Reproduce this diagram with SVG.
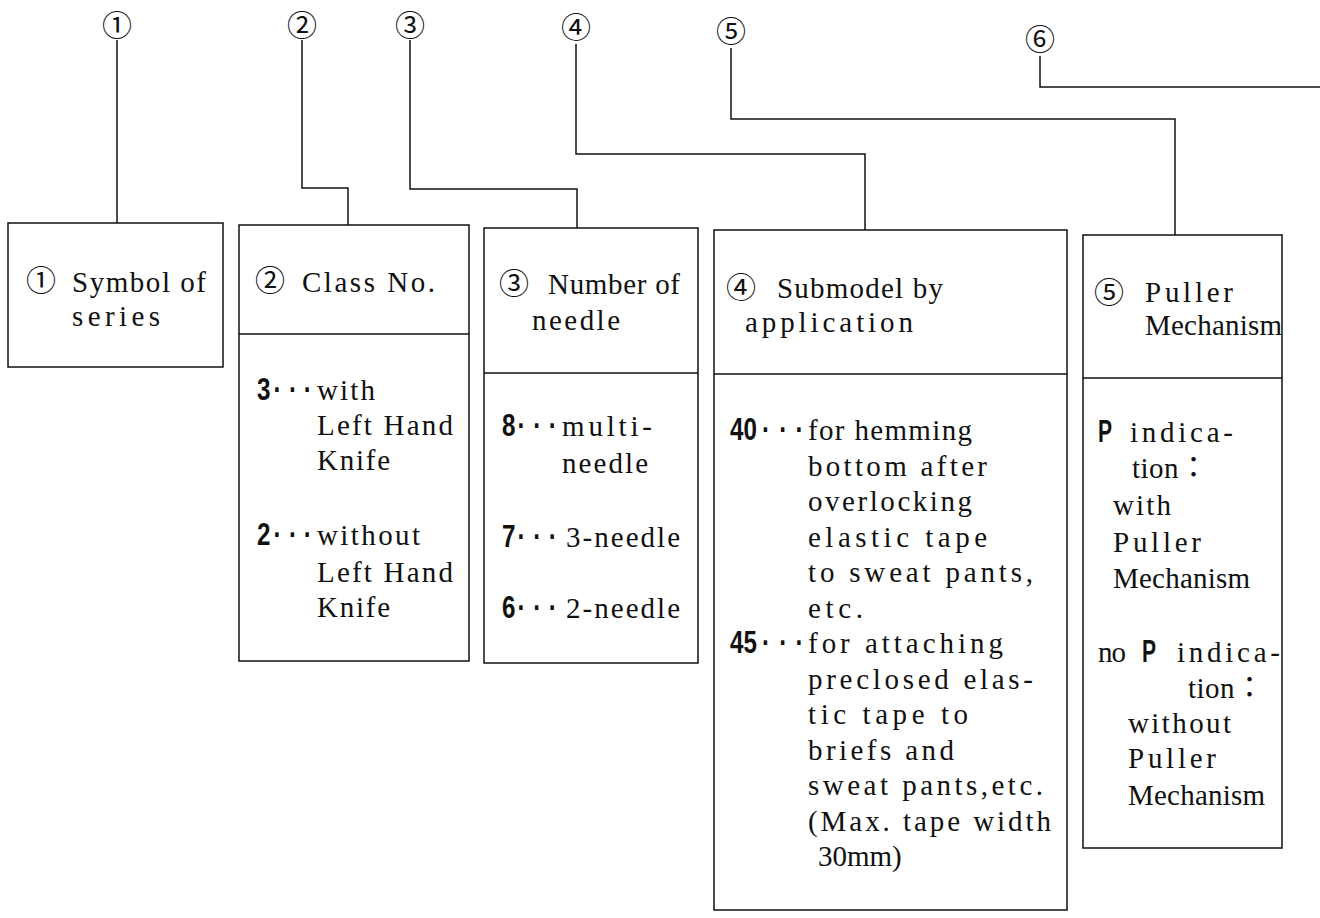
<svg xmlns="http://www.w3.org/2000/svg" width="1320" height="918" viewBox="0 0 1320 918">
<style>
.bg{fill:#ffffff}
.box{fill:none;stroke:#111;stroke-width:1.5}
.div{stroke:#111;stroke-width:1.5}
.con{fill:none;stroke:#111;stroke-width:1.5}
.t{font-family:"Liberation Serif","Noto Sans CJK JP",serif;font-size:29px;fill:#111}
.n{font-family:"Liberation Sans",sans-serif;font-size:31px;font-weight:bold;fill:#111}
.c{font-family:"Noto Sans CJK JP","DejaVu Sans",sans-serif;font-size:30px;fill:#111;text-anchor:middle}
</style>
<rect class="bg" x="0" y="0" width="1320" height="918"/>

<g id="labels">
<text class="c" x="117" y="36">①</text>
<text class="c" x="302" y="36">②</text>
<text class="c" x="410" y="36">③</text>
<text class="c" x="576" y="38">④</text>
<text class="c" x="731" y="42">⑤</text>
<text class="c" x="1040" y="50">⑥</text>
</g>

<g id="connectors">
<path class="con" d="M117,40 V223"/>
<path class="con" d="M302,40 V188 H348 V225"/>
<path class="con" d="M410,40 V189 H577 V228"/>
<path class="con" d="M576,44 V154 H865 V230"/>
<path class="con" d="M731,48 V119 H1175 V235"/>
<path class="con" d="M1040,56 V87 H1320"/>
</g>

<g id="node1">
<rect class="box" x="8" y="223" width="215" height="144"/>
<text class="c" x="41" y="291">①</text>
<text class="t" x="72" y="292" textLength="134" lengthAdjust="spacing">Symbol of</text>
<text class="t" x="72" y="326" textLength="88" lengthAdjust="spacing">series</text>
</g>

<g id="node2">
<rect class="box" x="239" y="225" width="230" height="436"/>
<line class="div" x1="239" y1="334" x2="469" y2="334"/>
<text class="c" x="270" y="291">②</text>
<text class="t" x="302" y="292" textLength="133" lengthAdjust="spacing">Class No.</text>
<text class="n" transform="translate(257 400) scale(0.78 1)">3<tspan x="21">·</tspan><tspan x="41">·</tspan><tspan x="60">·</tspan></text>
<text class="t" x="317" y="400" textLength="58" lengthAdjust="spacing">with</text>
<text class="t" x="317" y="435" textLength="136" lengthAdjust="spacing">Left Hand</text>
<text class="t" x="317" y="470" textLength="73" lengthAdjust="spacing">Knife</text>
<text class="n" transform="translate(257 545) scale(0.78 1)">2<tspan x="21">·</tspan><tspan x="41">·</tspan><tspan x="60">·</tspan></text>
<text class="t" x="317" y="545" textLength="103" lengthAdjust="spacing">without</text>
<text class="t" x="317" y="582" textLength="136" lengthAdjust="spacing">Left Hand</text>
<text class="t" x="317" y="617" textLength="73" lengthAdjust="spacing">Knife</text>
</g>

<g id="node3">
<rect class="box" x="484" y="228" width="214" height="435"/>
<line class="div" x1="484" y1="373" x2="698" y2="373"/>
<text class="c" x="514" y="294">③</text>
<text class="t" x="548" y="294" textLength="132" lengthAdjust="spacing">Number of</text>
<text class="t" x="532" y="330" textLength="88" lengthAdjust="spacing">needle</text>
<text class="n" transform="translate(502 436) scale(0.78 1)">8<tspan x="20">·</tspan><tspan x="40">·</tspan><tspan x="60">·</tspan></text>
<text class="t" x="562" y="436" textLength="90" lengthAdjust="spacing">multi-</text>
<text class="t" x="562" y="473" textLength="86" lengthAdjust="spacing">needle</text>
<text class="n" transform="translate(502 547) scale(0.78 1)">7<tspan x="20">·</tspan><tspan x="40">·</tspan><tspan x="60">·</tspan></text>
<text class="t" x="566" y="547" textLength="114" lengthAdjust="spacing">3-needle</text>
<text class="n" transform="translate(502 618) scale(0.78 1)">6<tspan x="20">·</tspan><tspan x="40">·</tspan><tspan x="60">·</tspan></text>
<text class="t" x="566" y="618" textLength="114" lengthAdjust="spacing">2-needle</text>
</g>

<g id="node4">
<rect class="box" x="714" y="230" width="353" height="680"/>
<line class="div" x1="714" y1="374" x2="1067" y2="374"/>
<text class="c" x="741" y="298">④</text>
<text class="t" x="777" y="298" textLength="166" lengthAdjust="spacing">Submodel by</text>
<text class="t" x="745" y="332" textLength="168" lengthAdjust="spacing">application</text>
<text class="n" transform="translate(730 440) scale(0.78 1)">40<tspan x="41">·</tspan><tspan x="63">·</tspan><tspan x="84">·</tspan></text>
<text class="t" x="808" y="440" textLength="164" lengthAdjust="spacing">for hemming</text>
<text class="t" x="808" y="475.5" textLength="179" lengthAdjust="spacing">bottom after</text>
<text class="t" x="808" y="511" textLength="164" lengthAdjust="spacing">overlocking</text>
<text class="t" x="808" y="546.5" textLength="179" lengthAdjust="spacing">elastic tape</text>
<text class="t" x="808" y="582" textLength="225" lengthAdjust="spacing">to sweat pants,</text>
<text class="t" x="808" y="617.5" textLength="55" lengthAdjust="spacing">etc.</text>
<text class="n" transform="translate(730 653) scale(0.78 1)">45<tspan x="41">·</tspan><tspan x="63">·</tspan><tspan x="84">·</tspan></text>
<text class="t" x="808" y="653" textLength="195" lengthAdjust="spacing">for attaching</text>
<text class="t" x="808" y="688.5" textLength="225" lengthAdjust="spacing">preclosed elas-</text>
<text class="t" x="808" y="724" textLength="160" lengthAdjust="spacing">tic tape to</text>
<text class="t" x="808" y="759.5" textLength="146" lengthAdjust="spacing">briefs and</text>
<text class="t" x="808" y="795" textLength="235" lengthAdjust="spacing">sweat pants,etc.</text>
<text class="t" x="808" y="830.5" textLength="243" lengthAdjust="spacing">(Max. tape width</text>
<text class="t" x="818" y="866">30mm)</text>
</g>

<g id="node5">
<rect class="box" x="1083" y="235" width="199" height="613"/>
<line class="div" x1="1083" y1="378" x2="1282" y2="378"/>
<text class="c" x="1109" y="303">⑤</text>
<text class="t" x="1145" y="302" textLength="88" lengthAdjust="spacing">Puller</text>
<text class="t" x="1145" y="335" textLength="137" lengthAdjust="spacing">Mechanism</text>
<text class="n" transform="translate(1098 442) scale(0.68 1)">P</text>
<text class="t" x="1130" y="442" textLength="103" lengthAdjust="spacing">indica-</text>
<text class="t" x="1132" y="478" textLength="76" lengthAdjust="spacing">tion：</text>
<text class="t" x="1113" y="515" textLength="58" lengthAdjust="spacing">with</text>
<text class="t" x="1113" y="552" textLength="88" lengthAdjust="spacing">Puller</text>
<text class="t" x="1113" y="588" textLength="137" lengthAdjust="spacing">Mechanism</text>
<text class="t" x="1098" y="662" textLength="28" lengthAdjust="spacing">no</text>
<text class="n" transform="translate(1142 662) scale(0.68 1)">P</text>
<text class="t" x="1177" y="662" textLength="103" lengthAdjust="spacing">indica-</text>
<text class="t" x="1188" y="698" textLength="76" lengthAdjust="spacing">tion：</text>
<text class="t" x="1128" y="733" textLength="103" lengthAdjust="spacing">without</text>
<text class="t" x="1128" y="768" textLength="88" lengthAdjust="spacing">Puller</text>
<text class="t" x="1128" y="805" textLength="137" lengthAdjust="spacing">Mechanism</text>
</g>
</svg>
